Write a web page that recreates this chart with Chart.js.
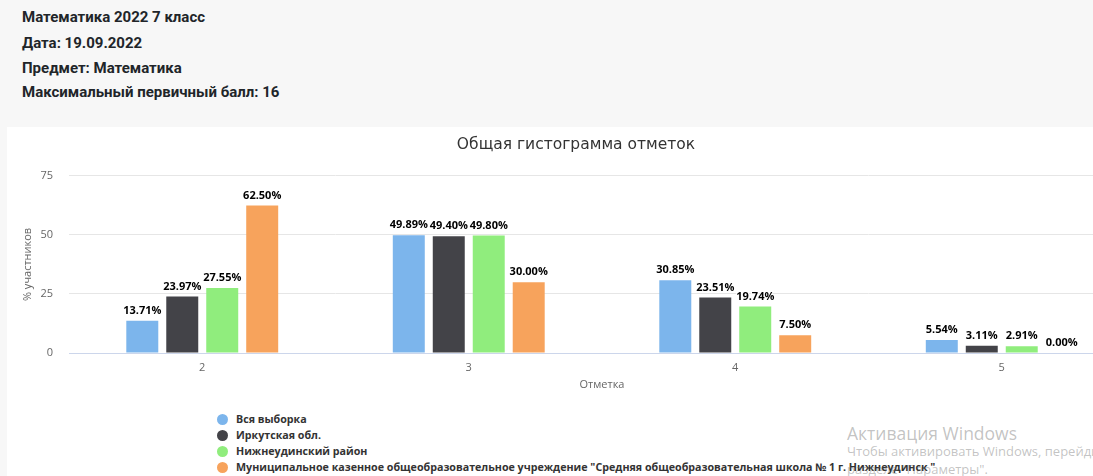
<!DOCTYPE html>
<html>
<head>
<meta charset="utf-8">
<script src="https://cdn.jsdelivr.net/npm/chart.js@4.4.0/dist/chart.umd.min.js"></script>
<style>
html,body{margin:0;padding:0;width:1093px;height:476px;overflow:hidden;background:#f7f7f7;}
#hdr div{position:absolute;left:22px;height:20px;line-height:20px;white-space:nowrap;font:bold 15px Roboto,sans-serif;color:#212529;}
#panel{position:absolute;left:7px;top:127px;width:1200px;height:400px;background:#ffffff;}
#c{position:absolute;left:7px;top:127px;}
#legend{position:absolute;left:217px;top:411px;}
.li{height:16px;display:flex;align-items:center;white-space:nowrap;font:bold 10.7px "Open Sans",sans-serif;color:#333333;}
.dot{width:11px;height:11px;border-radius:50%;margin-right:8px;flex:none;}
#wm{position:absolute;left:847px;top:0;pointer-events:none;white-space:nowrap;font-family:"Open Sans",sans-serif;color:rgba(110,110,110,0.42);}
#wm div{position:absolute;left:0;}
</style>
</head>
<body>
<div id="hdr">
  <div style="top:8px">Математика 2022 7 класс</div>
  <div style="top:34px">Дата: 19.09.2022</div>
  <div style="top:59px">Предмет: Математика</div>
  <div style="top:83px">Максимальный первичный балл: 16</div>
</div>
<div id="panel"></div>
<canvas id="c" width="1140" height="272"></canvas>
<div id="legend"></div>
<div id="wm">
  <div style="top:420px;font-size:17.5px;line-height:26px;">Активация Windows</div>
  <div style="top:442px;font-size:13px;line-height:19px;">Чтобы активировать Windows, перейдите в</div>
  <div style="top:460px;font-size:13px;line-height:19px;">разделе "Параметры".</div>
</div>
<script>
const chartTitle = 'Общая гистограмма отметок';
const categories = ['2', '3', '4', '5'];
const seriesNames = [
  'Вся выборка',
  'Иркутская обл.',
  'Нижнеудинский район',
  'Муниципальное казенное общеобразовательное учреждение "Средняя общеобразовательная школа № 1 г. Нижнеудинск "'
];
const allSample = [13.71, 49.89, 30.85, 5.54];
const irkutskRegion = [23.97, 49.40, 23.51, 3.11];
const nizhneudinskDistrict = [27.55, 49.80, 19.74, 2.91];
const schoolNo1 = [62.50, 30.00, 7.50, 0.00];
const seriesColors = ['#7cb5ec', '#434348', '#90ed7d', '#f7a35c'];
const yTickValues = [0, 25, 50, 75];
const xAxisTitle = 'Отметка';
const yAxisTitle = '% участников';

const seriesValues = [allSample, irkutskRegion, nizhneudinskDistrict, schoolNo1];

// HTML legend built from the series arrays
const legendEl = document.getElementById('legend');
seriesNames.forEach((name, i) => {
  const row = document.createElement('div');
  row.className = 'li';
  const dot = document.createElement('span');
  dot.className = 'dot';
  dot.style.background = seriesColors[i];
  const txt = document.createElement('span');
  txt.textContent = name;
  row.appendChild(dot);
  row.appendChild(txt);
  legendEl.appendChild(row);
});

const valueLabels = {
  id: 'valueLabels',
  afterDatasetsDraw(chart) {
    const ctx = chart.ctx;
    ctx.save();
    ctx.font = 'bold 11px "Open Sans", sans-serif';
    ctx.textAlign = 'center';
    ctx.textBaseline = 'middle';
    ctx.lineJoin = 'round';
    chart.data.datasets.forEach((ds, i) => {
      const meta = chart.getDatasetMeta(i);
      meta.data.forEach((bar, j) => {
        const t = ds.data[j].toFixed(2) + '%';
        const y = bar.y - 10;
        ctx.lineWidth = 2;
        ctx.strokeStyle = '#ffffff';
        ctx.strokeText(t, bar.x, y);
        ctx.fillStyle = '#000000';
        ctx.fillText(t, bar.x, y);
      });
    });
    ctx.restore();
  }
};

function makeChart() {
  const axisFont = { family: 'Open Sans', size: 11 };
  new Chart(document.getElementById('c'), {
    type: 'bar',
    data: {
      labels: categories,
      datasets: seriesNames.map((name, i) => ({
        label: name,
        data: seriesValues[i],
        backgroundColor: seriesColors[i],
        borderWidth: 0,
        categoryPercentage: 0.6,
        barPercentage: 0.8
      }))
    },
    options: {
      responsive: false,
      animation: false,
      layout: { padding: { left: 10, right: 12, top: 0, bottom: 0 } },
      plugins: {
        legend: { display: false },
        tooltip: { enabled: false },
        title: {
          display: true,
          text: chartTitle,
          color: '#333333',
          font: { family: 'DejaVu Sans', size: 15.5, weight: 'normal' },
          padding: { top: 8.3, bottom: 22 }
        }
      },
      scales: {
        x: {
          grid: { display: false, drawTicks: false },
          border: { display: true, color: '#ccd6eb', width: 1 },
          ticks: { color: '#666666', font: axisFont, padding: 8 },
          title: { display: true, text: xAxisTitle, color: '#666666', font: axisFont, padding: { top: 0, bottom: 7.7 } },
          afterFit(s) { s.height = 46; }
        },
        y: {
          min: 0,
          max: 75,
          grid: {
            drawTicks: false,
            color: (c) => (c.tick && c.tick.value === 0 ? '#ccd6eb' : '#e6e6e6')
          },
          border: { display: false },
          ticks: { color: '#666666', font: axisFont, padding: 16 },
          title: { display: true, text: yAxisTitle, color: '#666666', font: axisFont, padding: { top: 4.7, bottom: 0 } },
          afterBuildTicks(s) { s.ticks = yTickValues.map(v => ({ value: v })); },
          afterFit(s) { s.width = 52; }
        }
      }
    },
    plugins: [valueLabels]
  });
}

const fontLoads = [
  'bold 11px "Open Sans"', '11px "Open Sans"', '16px "DejaVu Sans"'
].map(f => document.fonts.load(f).catch(() => null));
Promise.all(fontLoads).then(makeChart, makeChart);
</script>
</body>
</html>
